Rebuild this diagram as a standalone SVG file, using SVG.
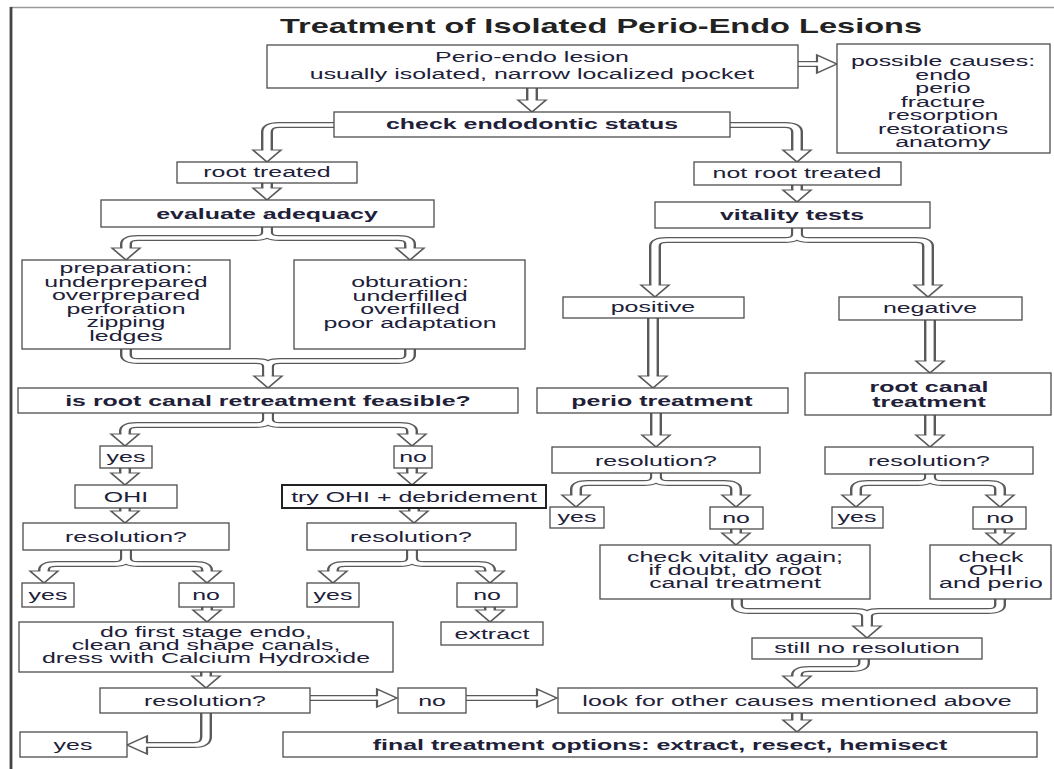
<svg xmlns="http://www.w3.org/2000/svg" xmlns:xlink="http://www.w3.org/1999/xlink" width="1054" height="769" viewBox="0 0 1054 769">
<style>
.box{fill:#fff;stroke:#4d4d4d;stroke-width:1.3}
.box2{fill:#fff;stroke:#222;stroke-width:2}
.t{font-family:"Liberation Sans",Arial,sans-serif;font-size:14.5px;fill:#202038;text-anchor:middle}
.b{font-weight:bold}
.title{font-family:"Liberation Sans",Arial,sans-serif;font-size:19.5px;font-weight:bold;fill:#222;text-anchor:middle}
.sd{fill:none;stroke:#5a5a5a;stroke-width:6;stroke-linejoin:round}
.sw{fill:none;stroke:#fff;stroke-width:3.6;stroke-linejoin:round}
.hd{fill:#fff;stroke:#5a5a5a;stroke-width:1.1;stroke-linejoin:miter}
</style>
<defs>
<path id="c1" d="M398,64 H408.5"/>
<path id="c2" d="M266,86 V100"/>
<path id="c3" d="M168,125 H139.5 Q133.5,125 133.5,132 V150"/>
<path id="c4" d="M364,125 H392.5 Q398.5,125 398.5,132 V150"/>
<path id="c5" d="M133.5,181 V188"/>
<path id="c6" d="M398.5,183 V190"/>
<path id="c7a" d="M133.5,225 V232 Q133.5,238 127.5,238 H69 Q63,238 63,244 V248"/>
<path id="c7b" d="M133.5,225 V232 Q133.5,238 139.5,238 H199 Q205,238 205,244 V248"/>
<path id="c8a" d="M63,347 V355 Q63,361 69,361 H128 Q134,361 134,367 V376"/>
<path id="c8b" d="M205,347 V355 Q205,361 199,361 H140 Q134,361 134,367 V376"/>
<path id="c9a" d="M134,411 V419 Q134,425 128,425 H68.5 Q62.5,425 62.5,431 V434"/>
<path id="c9b" d="M134,411 V419 Q134,425 140,425 H200 Q206,425 206,431 V434"/>
<path id="c10" d="M62.5,466 V473"/>
<path id="c11" d="M206,466 V473"/>
<path id="c12" d="M62.5,506 V511"/>
<path id="c13" d="M207,506 V511"/>
<path id="c14a" d="M63,548 V558 Q63,564 57,564 H28 Q22,564 22,570 V571"/>
<path id="c14b" d="M63,548 V558 Q63,564 69,564 H97.5 Q103.5,564 103.5,570 V571"/>
<path id="c15a" d="M206,548 V558 Q206,564 200,564 H172.5 Q166.5,564 166.5,570 V571"/>
<path id="c15b" d="M206,548 V558 Q206,564 212,564 H239 Q245,564 245,570 V571"/>
<path id="c16" d="M103.5,605 V610"/>
<path id="c17" d="M245,605 V610"/>
<path id="c18" d="M103,670 V676"/>
<path id="c19" d="M154,698 H188.5"/>
<path id="c20" d="M232,698 H268.5"/>
<path id="c21" d="M103,711 V737 Q103,745 97,745 H73.5"/>
<path id="c22a" d="M398.5,226 V234 Q398.5,240 392.5,240 H333.5 Q327.5,240 327.5,246 V285"/>
<path id="c22b" d="M398.5,226 V234 Q398.5,240 404.5,240 H458 Q464,240 464,246 V285"/>
<path id="c23" d="M326.5,316 V376"/>
<path id="c24" d="M465,318 V361"/>
<path id="c25" d="M328,411 V435"/>
<path id="c26" d="M465,413 V435"/>
<path id="c27a" d="M328,471 V477 Q328,483 322,483 H294 Q288,483 288,489 V495"/>
<path id="c27b" d="M328,471 V477 Q328,483 334,483 H362 Q368,483 368,489 V495"/>
<path id="c28a" d="M465,472 V477 Q465,483 459,483 H434 Q428,483 428,489 V495"/>
<path id="c28b" d="M465,472 V477 Q465,483 471,483 H494 Q500,483 500,489 V495"/>
<path id="c29" d="M368,527 V533"/>
<path id="c30" d="M500,527 V533"/>
<path id="c31a" d="M368.5,597 V605 Q368.5,611 374.5,611 H427.5 Q433.5,611 433.5,617 V626"/>
<path id="c31b" d="M500,597 V605 Q500,611 494,611 H439.5 Q433.5,611 433.5,617 V626"/>
<path id="c32" d="M432,657 V663 Q432,669 426,669 H404.5 Q398.5,669 398.5,675 V676"/>
<path id="c33" d="M398.5,711 V720"/>
</defs>

<g id="frame">
<line x1="10" y1="7.5" x2="1054" y2="7.5" stroke="#9a9a9a" stroke-width="1.5"/>
<line x1="11" y1="7" x2="11" y2="769" stroke="#444" stroke-width="2.8"/>
</g>

<text class="title" transform="matrix(1.67 0 0 1 601 33)">Treatment of Isolated Perio-Endo Lesions</text>

<g id="connectors" transform="scale(2 1)">
<g class="sd">
<use xlink:href="#c1"/><use xlink:href="#c2"/><use xlink:href="#c3"/><use xlink:href="#c4"/><use xlink:href="#c5"/><use xlink:href="#c6"/>
<use xlink:href="#c7a"/><use xlink:href="#c7b"/><use xlink:href="#c8a"/><use xlink:href="#c8b"/><use xlink:href="#c9a"/><use xlink:href="#c9b"/>
<use xlink:href="#c10"/><use xlink:href="#c11"/><use xlink:href="#c12"/><use xlink:href="#c13"/>
<use xlink:href="#c14a"/><use xlink:href="#c14b"/><use xlink:href="#c15a"/><use xlink:href="#c15b"/>
<use xlink:href="#c16"/><use xlink:href="#c17"/><use xlink:href="#c18"/><use xlink:href="#c19"/><use xlink:href="#c20"/><use xlink:href="#c21"/>
<use xlink:href="#c22a"/><use xlink:href="#c22b"/><use xlink:href="#c23"/><use xlink:href="#c24"/><use xlink:href="#c25"/><use xlink:href="#c26"/>
<use xlink:href="#c27a"/><use xlink:href="#c27b"/><use xlink:href="#c28a"/><use xlink:href="#c28b"/><use xlink:href="#c29"/><use xlink:href="#c30"/>
<use xlink:href="#c31a"/><use xlink:href="#c31b"/><use xlink:href="#c32"/><use xlink:href="#c33"/>
</g>
<g class="sw">
<use xlink:href="#c1"/><use xlink:href="#c2"/><use xlink:href="#c3"/><use xlink:href="#c4"/><use xlink:href="#c5"/><use xlink:href="#c6"/>
<use xlink:href="#c7a"/><use xlink:href="#c7b"/><use xlink:href="#c8a"/><use xlink:href="#c8b"/><use xlink:href="#c9a"/><use xlink:href="#c9b"/>
<use xlink:href="#c10"/><use xlink:href="#c11"/><use xlink:href="#c12"/><use xlink:href="#c13"/>
<use xlink:href="#c14a"/><use xlink:href="#c14b"/><use xlink:href="#c15a"/><use xlink:href="#c15b"/>
<use xlink:href="#c16"/><use xlink:href="#c17"/><use xlink:href="#c18"/><use xlink:href="#c19"/><use xlink:href="#c20"/><use xlink:href="#c21"/>
<use xlink:href="#c22a"/><use xlink:href="#c22b"/><use xlink:href="#c23"/><use xlink:href="#c24"/><use xlink:href="#c25"/><use xlink:href="#c26"/>
<use xlink:href="#c27a"/><use xlink:href="#c27b"/><use xlink:href="#c28a"/><use xlink:href="#c28b"/><use xlink:href="#c29"/><use xlink:href="#c30"/>
<use xlink:href="#c31a"/><use xlink:href="#c31b"/><use xlink:href="#c32"/><use xlink:href="#c33"/>
</g>
<g class="hd">
<polyline points="408.5,62.2 408.5,55 418.5,64 408.5,73 408.5,65.8"/>
<polyline points="264.2,100 259,100 266,112 273,100 267.8,100"/>
<polyline points="131.7,150 126.5,150 133.5,162 140.5,150 135.3,150"/>
<polyline points="396.7,150 391.5,150 398.5,162 405.5,150 400.3,150"/>
<polyline points="131.7,188 126.5,188 133.5,200 140.5,188 135.3,188"/>
<polyline points="396.7,190 391.5,190 398.5,202 405.5,190 400.3,190"/>
<polyline points="61.2,248 56,248 63,260 70,248 64.8,248"/>
<polyline points="203.2,248 198,248 205,260 212,248 206.8,248"/>
<polyline points="132.2,376 127,376 134,388 141,376 135.8,376"/>
<polyline points="60.7,434 55.5,434 62.5,446 69.5,434 64.3,434"/>
<polyline points="204.2,434 199,434 206,446 213,434 207.8,434"/>
<polyline points="60.7,473 55.5,473 62.5,485 69.5,473 64.3,473"/>
<polyline points="204.2,473 199,473 206,485 213,473 207.8,473"/>
<polyline points="60.7,511 55.5,511 62.5,523 69.5,511 64.3,511"/>
<polyline points="205.2,511 200,511 207,523 214,511 208.8,511"/>
<polyline points="20.2,571 15,571 22,583 29,571 23.8,571"/>
<polyline points="101.7,571 96.5,571 103.5,583 110.5,571 105.3,571"/>
<polyline points="164.7,571 159.5,571 166.5,583 173.5,571 168.3,571"/>
<polyline points="243.2,571 238,571 245,583 252,571 246.8,571"/>
<polyline points="101.7,610 96.5,610 103.5,622 110.5,610 105.3,610"/>
<polyline points="243.2,610 238,610 245,622 252,610 246.8,610"/>
<polyline points="101.2,676 96,676 103,688 110,676 104.8,676"/>
<polyline points="188.5,696.2 188.5,689 198.5,698 188.5,707 188.5,699.8"/>
<polyline points="268.5,696.2 268.5,689 278.5,698 268.5,707 268.5,699.8"/>
<polyline points="73.5,743.2 73.5,736 63.5,745 73.5,754 73.5,746.8"/>
<polyline points="325.7,285 320.5,285 327.5,297 334.5,285 329.3,285"/>
<polyline points="462.2,285 457,285 464,297 471,285 465.8,285"/>
<polyline points="324.7,376 319.5,376 326.5,388 333.5,376 328.3,376"/>
<polyline points="463.2,361 458,361 465,373 472,361 466.8,361"/>
<polyline points="326.2,435 321,435 328,447 335,435 329.8,435"/>
<polyline points="463.2,435 458,435 465,447 472,435 466.8,435"/>
<polyline points="286.2,495 281,495 288,507 295,495 289.8,495"/>
<polyline points="366.2,495 361,495 368,507 375,495 369.8,495"/>
<polyline points="426.2,495 421,495 428,507 435,495 429.8,495"/>
<polyline points="498.2,495 493,495 500,507 507,495 501.8,495"/>
<polyline points="366.2,533 361,533 368,545 375,533 369.8,533"/>
<polyline points="498.2,533 493,533 500,545 507,533 501.8,533"/>
<polyline points="431.7,626 426.5,626 433.5,638 440.5,626 435.3,626"/>
<polyline points="396.7,676 391.5,676 398.5,688 405.5,676 400.3,676"/>
<polyline points="396.7,720 391.5,720 398.5,732 405.5,720 400.3,720"/>
</g>
</g>

<g id="n-lesion"><rect class="box" x="267" y="45" width="531" height="43"/>
<text class="t" transform="matrix(1.72 0 0 1 532 62)">Perio-endo lesion</text>
<text class="t" transform="matrix(1.72 0 0 1 532 79)">usually isolated, narrow localized pocket</text></g>

<g id="n-causes"><rect class="box" x="837" y="44" width="213" height="109"/>
<text class="t" transform="matrix(1.72 0 0 1 943 66)">possible causes:</text>
<text class="t" transform="matrix(1.72 0 0 1 943 79.5)">endo</text>
<text class="t" transform="matrix(1.72 0 0 1 943 93)">perio</text>
<text class="t" transform="matrix(1.72 0 0 1 943 106.5)">fracture</text>
<text class="t" transform="matrix(1.72 0 0 1 943 120)">resorption</text>
<text class="t" transform="matrix(1.72 0 0 1 943 133.5)">restorations</text>
<text class="t" transform="matrix(1.72 0 0 1 943 147)">anatomy</text></g>

<g id="n-check"><rect class="box" x="334" y="112" width="396" height="25"/>
<text class="t b" transform="matrix(1.72 0 0 1 532 129)">check endodontic status</text></g>

<g id="n-rt"><rect class="box" x="177" y="162" width="180" height="21"/>
<text class="t" transform="matrix(1.72 0 0 1 267 177)">root treated</text></g>

<g id="n-nrt"><rect class="box" x="694" y="162" width="207" height="23"/>
<text class="t" transform="matrix(1.72 0 0 1 797 178)">not root treated</text></g>

<g id="n-eval"><rect class="box" x="101" y="200" width="333" height="27"/>
<text class="t b" transform="matrix(1.72 0 0 1 267 219)">evaluate adequacy</text></g>

<g id="n-vital"><rect class="box" x="655" y="202" width="275" height="26"/>
<text class="t b" transform="matrix(1.72 0 0 1 792 220)">vitality tests</text></g>

<g id="n-prep"><rect class="box" x="22" y="260" width="208" height="89"/>
<text class="t" transform="matrix(1.72 0 0 1 126 273)">preparation:</text>
<text class="t" transform="matrix(1.72 0 0 1 126 286.6)">underprepared</text>
<text class="t" transform="matrix(1.72 0 0 1 126 300.2)">overprepared</text>
<text class="t" transform="matrix(1.72 0 0 1 126 313.8)">perforation</text>
<text class="t" transform="matrix(1.72 0 0 1 126 327.4)">zipping</text>
<text class="t" transform="matrix(1.72 0 0 1 126 341)">ledges</text></g>

<g id="n-obt"><rect class="box" x="294" y="260" width="231" height="89"/>
<text class="t" transform="matrix(1.72 0 0 1 410 287)">obturation:</text>
<text class="t" transform="matrix(1.72 0 0 1 410 300.6)">underfilled</text>
<text class="t" transform="matrix(1.72 0 0 1 410 314.2)">overfilled</text>
<text class="t" transform="matrix(1.72 0 0 1 410 327.8)">poor adaptation</text></g>

<g id="n-retreat"><rect class="box" x="18" y="388" width="500" height="25"/>
<text class="t b" transform="matrix(1.72 0 0 1 268 406)">is root canal retreatment feasible?</text></g>

<g id="n-yes1"><rect class="box" x="100" y="446" width="52" height="22"/>
<text class="t" transform="matrix(1.72 0 0 1 126 462)">yes</text></g>

<g id="n-no1"><rect class="box" x="394" y="446" width="38" height="22"/>
<text class="t" transform="matrix(1.72 0 0 1 413 462)">no</text></g>

<g id="n-ohi"><rect class="box" x="75" y="485" width="102" height="23"/>
<text class="t" transform="matrix(1.72 0 0 1 126 502)">OHI</text></g>

<g id="n-try"><rect class="box2" x="282" y="485" width="264" height="23"/>
<text class="t" transform="matrix(1.72 0 0 1 414 502)">try OHI + debridement</text></g>

<g id="n-res1"><rect class="box" x="23" y="523" width="206" height="27"/>
<text class="t" transform="matrix(1.72 0 0 1 126 542)">resolution?</text></g>

<g id="n-res2"><rect class="box" x="307" y="523" width="209" height="27"/>
<text class="t" transform="matrix(1.72 0 0 1 411 542)">resolution?</text></g>

<g id="n-yes2"><rect class="box" x="22" y="583" width="52" height="24"/>
<text class="t" transform="matrix(1.72 0 0 1 48 600)">yes</text></g>

<g id="n-no2"><rect class="box" x="179" y="583" width="55" height="24"/>
<text class="t" transform="matrix(1.72 0 0 1 206 600)">no</text></g>

<g id="n-yes3"><rect class="box" x="307" y="583" width="52" height="24"/>
<text class="t" transform="matrix(1.72 0 0 1 333 600)">yes</text></g>

<g id="n-no3"><rect class="box" x="457" y="583" width="60" height="24"/>
<text class="t" transform="matrix(1.72 0 0 1 487 600)">no</text></g>

<g id="n-extract"><rect class="box" x="441" y="622" width="102" height="23"/>
<text class="t" transform="matrix(1.72 0 0 1 492 639)">extract</text></g>

<g id="n-first"><rect class="box" x="19" y="622" width="374" height="50"/>
<text class="t" transform="matrix(1.72 0 0 1 206 637)">do first stage endo,</text>
<text class="t" transform="matrix(1.72 0 0 1 206 650)">clean and shape canals,</text>
<text class="t" transform="matrix(1.72 0 0 1 206 663)">dress with Calcium Hydroxide</text></g>

<g id="n-res3"><rect class="box" x="100" y="688" width="210" height="25"/>
<text class="t" transform="matrix(1.72 0 0 1 205 706)">resolution?</text></g>

<g id="n-no4"><rect class="box" x="398" y="688" width="68" height="25"/>
<text class="t" transform="matrix(1.72 0 0 1 432 706)">no</text></g>

<g id="n-yes4"><rect class="box" x="20" y="732" width="107" height="25"/>
<text class="t" transform="matrix(1.72 0 0 1 73 750)">yes</text></g>

<g id="n-look"><rect class="box" x="558" y="688" width="479" height="25"/>
<text class="t" transform="matrix(1.72 0 0 1 797 706)">look for other causes mentioned above</text></g>

<g id="n-final"><rect class="box" x="283" y="732" width="754" height="25"/>
<text class="t b" transform="matrix(1.72 0 0 1 660 750)">final treatment options: extract, resect, hemisect</text></g>

<g id="n-pos"><rect class="box" x="563" y="297" width="181" height="21"/>
<text class="t" transform="matrix(1.72 0 0 1 653 312)">positive</text></g>

<g id="n-neg"><rect class="box" x="839" y="297" width="183" height="23"/>
<text class="t" transform="matrix(1.72 0 0 1 930 313)">negative</text></g>

<g id="n-perio"><rect class="box" x="537" y="388" width="251" height="25"/>
<text class="t b" transform="matrix(1.72 0 0 1 662 406)">perio treatment</text></g>

<g id="n-rct"><rect class="box" x="805" y="373" width="246" height="42"/>
<text class="t b" transform="matrix(1.72 0 0 1 929 392)">root canal</text>
<text class="t b" transform="matrix(1.72 0 0 1 929 407)">treatment</text></g>

<g id="n-res4"><rect class="box" x="552" y="447" width="208" height="26"/>
<text class="t" transform="matrix(1.72 0 0 1 656 466)">resolution?</text></g>

<g id="n-res5"><rect class="box" x="825" y="447" width="208" height="27"/>
<text class="t" transform="matrix(1.72 0 0 1 929 466)">resolution?</text></g>

<g id="n-yes5"><rect class="box" x="550" y="507" width="54" height="21"/>
<text class="t" transform="matrix(1.72 0 0 1 577 522)">yes</text></g>

<g id="n-no5"><rect class="box" x="710" y="507" width="53" height="22"/>
<text class="t" transform="matrix(1.72 0 0 1 736 523)">no</text></g>

<g id="n-yes6"><rect class="box" x="832" y="507" width="51" height="21"/>
<text class="t" transform="matrix(1.72 0 0 1 857 522)">yes</text></g>

<g id="n-no6"><rect class="box" x="973" y="507" width="53" height="22"/>
<text class="t" transform="matrix(1.72 0 0 1 1000 523)">no</text></g>

<g id="n-checkv"><rect class="box" x="600" y="545" width="270" height="54"/>
<text class="t" transform="matrix(1.72 0 0 1 735 562)">check vitality again;</text>
<text class="t" transform="matrix(1.72 0 0 1 735 575)">if doubt, do root</text>
<text class="t" transform="matrix(1.72 0 0 1 735 588)">canal treatment</text></g>

<g id="n-checko"><rect class="box" x="930" y="545" width="121" height="54"/>
<text class="t" transform="matrix(1.72 0 0 1 991 562)">check</text>
<text class="t" transform="matrix(1.72 0 0 1 991 575)">OHI</text>
<text class="t" transform="matrix(1.72 0 0 1 991 588)">and perio</text></g>

<g id="n-still"><rect class="box" x="752" y="638" width="230" height="21"/>
<text class="t" transform="matrix(1.72 0 0 1 867 653)">still no resolution</text></g>
</svg>
